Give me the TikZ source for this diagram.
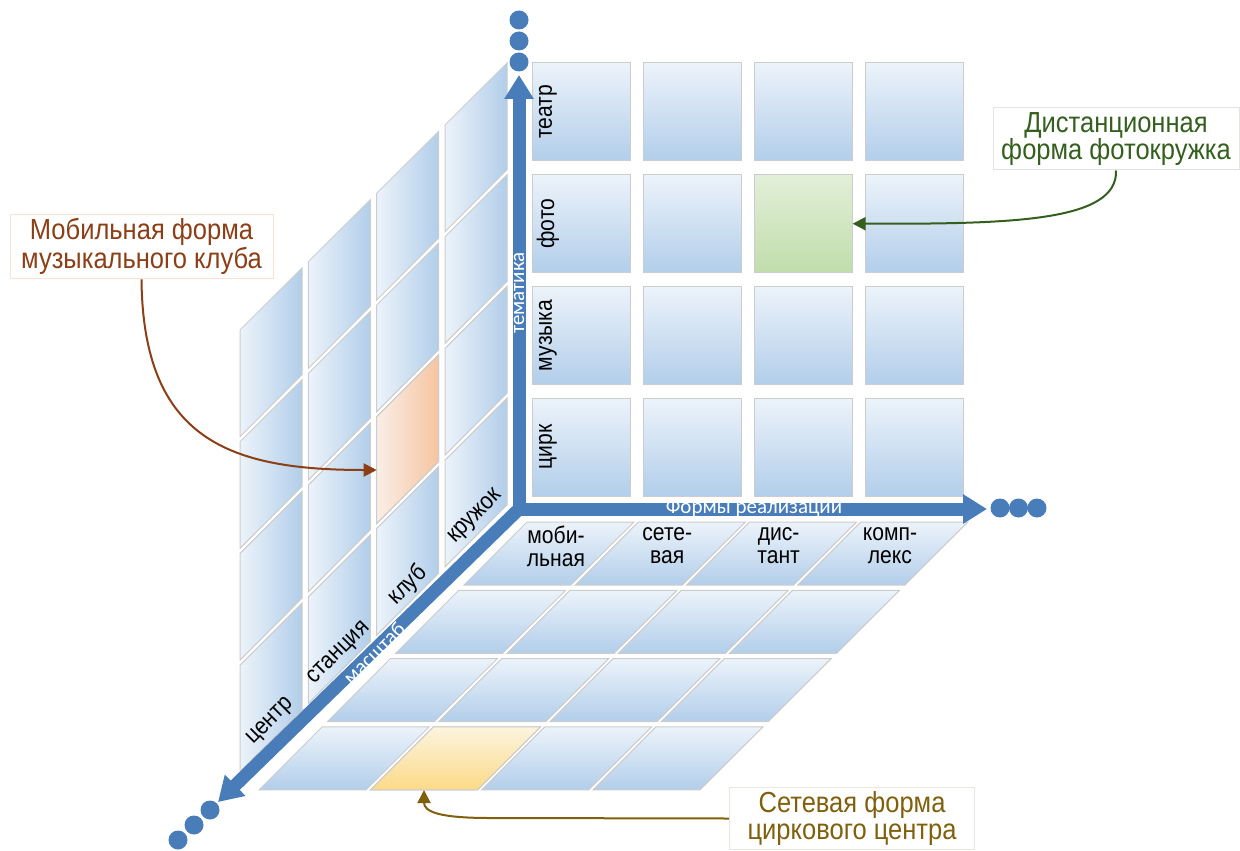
\documentclass[tikz,border=0pt]{standalone}
\usepackage{fontspec}
\setmainfont{Liberation Sans}[FakeStretch=0.88]
\newfontfamily\axisfont{Carlito}
\usetikzlibrary{arrows.meta,positioning}
\definecolor{cellLight}{RGB}{236,243,250}
\definecolor{cellBlue}{RGB}{178,206,234}
\definecolor{axisBlue}{RGB}{72,125,186}
\definecolor{orangeLight}{RGB}{250,238,230}
\definecolor{orangeDeep}{RGB}{246,196,160}
\definecolor{greenTop}{RGB}{226,239,216}
\definecolor{greenBottom}{RGB}{192,221,172}
\definecolor{yellowTop}{RGB}{252,244,222}
\definecolor{yellowBottom}{RGB}{252,218,135}
\definecolor{mobText}{RGB}{140,62,22}
\definecolor{distText}{RGB}{52,95,30}
\definecolor{setText}{RGB}{128,96,12}
\definecolor{mobLine}{RGB}{250,225,210}
\definecolor{distLine}{RGB}{225,228,225}
\definecolor{setLine}{RGB}{232,232,225}
\tikzset{cell/.style={draw=black!20, line width=0.5pt, top color=cellLight, bottom color=cellBlue}, % back and floor cells
wallcell/.style={draw=black!20, line width=0.5pt, left color=cellLight, right color=cellBlue}, % cells of the side wall
axis/.style={draw=axisBlue, line width=6.5pt, -{Triangle[length=12pt,width=14pt]}}, % thick axis arrows
dot/.style={circle, fill=axisBlue, inner sep=0pt, minimum size=9.5pt}, % the dots after each axis
tag/.style={font=\fontsize{12}{11.5}\selectfont, align=center, inner sep=0.5pt}, % row and column names
axtag/.style={text=white, font=\axisfont\fontsize{10.5}{12}\selectfont, inner sep=0pt}, % axis names
note/.style={line width=0.5pt, align=center, inner sep=2pt, font=\fontsize{14.5}{13.5}\selectfont}, % callout boxes
pointer/.style={line width=1pt, -{Triangle[length=6.5pt,width=6.5pt]}}, % callout arrows
}
\begin{document}
\begin{tikzpicture}[x=0.5pt, y=-0.5pt] % one unit = one pixel, y runs down
\useasboundingbox (0,0) rectangle (1240,850);
% side wall: scale x themes
\foreach \k in {0,...,3}
\foreach \r in {0,...,3}
{\path[wallcell] ({507-68.3*\k},{63+111.7*\r+68.3*\k}) -- ++(0,106.7) -- ++(-62,62) -- ++(0,-106.7) -- cycle;}
% back wall: forms x themes
\foreach \i in {0,...,3}
\foreach \j in {0,...,3}
{\path[cell] ({532+111.3*\i},{63+111.7*\j}) rectangle ++(98,98);}
% floor: forms x scale
\foreach \i in {0,...,3}
\foreach \k in {0,...,3}
{\path[cell] ({527+111.3*\i-68.3*\k},{522+68.3*\k}) -- ++(107,0) -- ++(-63,63) -- ++(-107,0) -- cycle;}
% marked cells
\path[wallcell, left color=orangeLight, right color=orangeDeep] (438.7,354.7) -- ++(0,106.7) -- ++(-62,62) -- ++(0,-106.7) -- cycle;
\path[cell, top color=greenTop, bottom color=greenBottom] (754.6,174.7) rectangle ++(98,98);
\path[cell, top color=yellowTop, bottom color=yellowBottom] (433.4,726.9) -- ++(107,0) -- ++(-63,63) -- ++(-107,0) -- cycle;
\coordinate (club) at (376.7,470);
\coordinate (photo) at (852.6,223.7);
\coordinate (circus) at (424,790);
% names of rows and columns
\foreach \t [count=\j from 0] in {театр,фото,музыка,цирк}
\node[tag, rotate=90] (theme\j) at (548,{112+111.7*\j}) {\t};
\foreach \s [count=\k from 0] in {кружок,клуб,станция,центр}
\node[tag, rotate=45] (scale\k) at ({476-68.3*\k},{517+68.3*\k}) {\s};
\foreach \f [count=\i from 0] in {{моби-\\льная},{сете-\\вая},{дис-\\тант},{комп-\\лекс}}
\node[tag] (form\i) at ({556+111.3*\i},546) {\f};
% axes
\coordinate (O) at (519,509);
\coordinate (themeEnd) at (519,75);
\coordinate (formEnd) at (987,509);
\coordinate (scaleEnd) at (218,802);
\draw[axis] (O) -- (scaleEnd);
\draw[axis, {Triangle[length=12pt,width=14pt]}-{Triangle[length=12pt,width=14pt]}] (themeEnd) -- (O) -- (formEnd);
\foreach \y [count=\n] in {20,41,62}
\node[dot] (up\n) at (519,\y) {};
\foreach \x [count=\n] in {1000,1018.5,1037}
\node[dot] (right\n) at (\x,508) {};
\foreach \x/\y [count=\n] in {210/810,194/825,178/840}
\node[dot] (down\n) at (\x,\y) {};
\node[axtag, rotate=90] (themeTag) at (519,293) {тематика};
\node[axtag] (formTag) at (754,508) {Формы реализации};
\node[axtag, rotate=45] (scaleTag) at (374,653) {масштаб};
% callouts
\node[note, draw=mobLine, text=mobText, minimum width=131.5pt, minimum height=31.5pt] (mob) at (141.5,246.5) {Мобильная форма\\музыкального клуба};
\node[note, draw=distLine, text=distText, minimum width=123pt, minimum height=31pt] (dist) at (1116,139) {Дистанционная\\форма фотокружка};
\node[note, draw=setLine, text=setText, minimum width=122.5pt, minimum height=30.5pt] (set) at (852,818.5) {Сетевая форма\\циркового центра};
\draw[pointer, mobText] (mob.south) .. controls (143,440) and (230,470) .. (club);
\draw[pointer, distText] (dist.south) .. controls (1118,222) and (1010,224) .. (photo);
\draw[pointer, setText] (set.west) -- (490,818) .. controls (440,818) and (424,812) .. (circus);
\end{tikzpicture}
\end{document}
